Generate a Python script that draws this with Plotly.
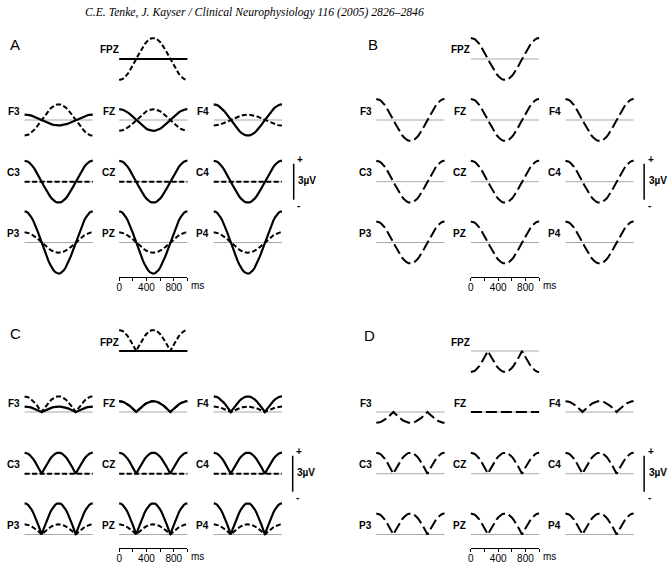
import plotly.graph_objects as go

W, H = 671, 569

# ---------------- data ----------------
times = [0, 25, 50, 75, 100, 125, 150, 175, 200, 225, 250, 275, 300, 325, 350, 375, 400,
         425, 450, 475, 500, 525, 550, 575, 600, 625, 650, 675, 700, 725, 750, 775, 800,
         825, 850, 875, 900, 925, 950, 975, 1000]
# normalised waveform (one cycle, peak at 0 and 1000 ms, trough at 500 ms)
wave = [1.0, 0.988, 0.951, 0.891, 0.809, 0.707, 0.588, 0.454, 0.309, 0.156, 0.0,
        -0.156, -0.309, -0.454, -0.588, -0.707, -0.809, -0.891, -0.951, -0.988, -1.0,
        -0.988, -0.951, -0.891, -0.809, -0.707, -0.588, -0.454, -0.309, -0.156, 0.0,
        0.156, 0.309, 0.454, 0.588, 0.707, 0.809, 0.891, 0.951, 0.988, 1.0]
# rectified waveform (panels C and D)
wave_rect = [1.0, 0.988, 0.951, 0.891, 0.809, 0.707, 0.588, 0.454, 0.309, 0.156, 0.0,
             0.156, 0.309, 0.454, 0.588, 0.707, 0.809, 0.891, 0.951, 0.988, 1.0,
             0.988, 0.951, 0.891, 0.809, 0.707, 0.588, 0.454, 0.309, 0.156, 0.0,
             0.156, 0.309, 0.454, 0.588, 0.707, 0.809, 0.891, 0.951, 0.988, 1.0]

electrodes = ["FPZ", "F3", "FZ", "F4", "C3", "CZ", "C4", "P3", "PZ", "P4"]
# amplitudes in microvolts
a_solid = [0.0, 0.45, 0.9, 1.3, 1.75, 1.75, 1.75, 2.6, 2.6, 2.6]
a_dashed = [-1.75, -1.3, -0.9, -0.45, 0.0, 0.0, 0.0, 0.85, 0.85, 0.85]
b_dashed = [1.75, 1.75, 1.75, 1.75, 1.75, 1.75, 1.75, 1.75, 1.75, 1.75]
c_solid = [0.0, 0.45, 0.9, 1.3, 1.75, 1.75, 1.75, 2.6, 2.6, 2.6]
c_dashed = [1.75, 1.3, 0.9, 0.45, 0.0, 0.0, 0.0, 0.85, 0.85, 0.85]
d_dashed = [-1.75, -0.9, 0.0, 0.9, 1.75, 1.75, 1.75, 1.75, 1.75, 1.75]

time_ticks = [0, 200, 400, 600, 800, 1000]
time_labels = ["0", "", "400", "", "800", ""]
scale_bar_uv = [-1.5, 1.5]

title_text = "C.E. Tenke, J. Kayser / Clinical Neurophysiology 116 (2005) 2826–2846"

# ---------------- layout geometry (pixels) ----------------
PX_PER_UV = 12.0
PLOT_W = 68.5            # pixels for 0..1000 ms
PX_PER_MS = PLOT_W / 1000.0
XPAD = 15                # ms padding
YR = 2.8                 # uV half range

col_x = [21.7, 116.7, 211.7]
row_y = [59.0, 120.0, 181.7, 242.5]
grid = [(0, 1), (1, 0), (1, 1), (1, 2), (2, 0), (2, 1), (2, 2), (3, 0), (3, 1), (3, 2)]

FONT = "Liberation Sans, Arial, sans-serif"


def px_x(x):
    return x / W


def px_y(y):
    return 1 - y / H


fig = go.Figure()
layout = {}
annotations = []
ax_n = [0]


def new_axes(x0, yb, xr, yr):
    ax_n[0] += 1
    n = ax_n[0]
    xd0 = x0 + (xr[0]) * PX_PER_MS
    xd1 = x0 + (xr[1]) * PX_PER_MS
    yd_top = yb - yr[1] * PX_PER_UV
    yd_bot = yb - yr[0] * PX_PER_UV
    sx = "" if n == 1 else str(n)
    layout["xaxis" + sx] = dict(domain=[px_x(xd0), px_x(xd1)], range=list(xr), visible=False,
                                anchor="y" + sx, fixedrange=True)
    layout["yaxis" + sx] = dict(domain=[px_y(yd_bot), px_y(yd_top)], range=list(yr), visible=False,
                                anchor="x" + sx, fixedrange=True)
    return "x" + sx, "y" + sx


panels = [
    dict(letter="A", dx=0.0, dy=0.0, solid=a_solid, dashed=a_dashed, shape=wave, dash="5px,2.5px",
         letter_pos=(12, 44), taxis_y=276.7, bar_x=292.0),
    dict(letter="B", dx=353.3, dy=0.0, solid=None, dashed=b_dashed, shape=wave, dash="11px,4px",
         letter_pos=(372, 44), taxis_y=276.7, bar_x=644.0),
    dict(letter="C", dx=0.0, dy=292.0, solid=c_solid, dashed=c_dashed, shape=wave_rect, dash="5px,2.5px",
         letter_pos=(13, 333), taxis_y=548.3, bar_x=291.0),
    dict(letter="D", dx=353.3, dy=292.0, solid=None, dashed=d_dashed, shape=wave_rect, dash="11px,4px",
         letter_pos=(368, 335), taxis_y=548.3, bar_x=644.0),
]

for p in panels:
    for i, name in enumerate(electrodes):
        r, c = grid[i]
        x0 = col_x[c] + p["dx"]
        yb = row_y[r] + p["dy"]
        xa, ya = new_axes(x0, yb, (-XPAD, 1000 + XPAD), (-YR, YR))
        # baseline
        fig.add_trace(go.Scatter(x=[times[0], times[-1]], y=[0, 0], mode="lines",
                                 line=dict(color="#a8a8a8", width=1),
                                 xaxis=xa, yaxis=ya, hoverinfo="skip", showlegend=False))
        # dashed
        fig.add_trace(go.Scatter(x=times, y=[p["dashed"][i] * v for v in p["shape"]], mode="lines",
                                 line=dict(color="black", width=2, dash=p["dash"]),
                                 xaxis=xa, yaxis=ya, hoverinfo="skip", showlegend=False))
        if p["solid"] is not None:
            fig.add_trace(go.Scatter(x=times, y=[p["solid"][i] * v for v in p["shape"]], mode="lines",
                                     line=dict(color="black", width=2.2),
                                     xaxis=xa, yaxis=ya, hoverinfo="skip", showlegend=False))
        # label
        if name == "FPZ":
            lx = x0 + 1.5
        else:
            lx = x0 - 2.5
        annotations.append(dict(x=px_x(lx), y=px_y(yb - 1.5), xref="paper", yref="paper",
                                xanchor="right", yanchor="bottom", text="<b>%s</b>" % name,
                                showarrow=False, font=dict(family=FONT, size=10, color="black")))

    # panel letter
    lpx, lpy = p["letter_pos"]
    annotations.append(dict(x=px_x(lpx), y=px_y(lpy), xref="paper", yref="paper",
                            xanchor="center", yanchor="middle", text=p["letter"], showarrow=False,
                            font=dict(family=FONT, size=15, color="black")))

    # time axis under middle column
    ax_n[0] += 1
    n = ax_n[0]
    x0 = col_x[1] + p["dx"]
    ty = p["taxis_y"]
    layout["xaxis%d" % n] = dict(domain=[px_x(x0), px_x(x0 + PLOT_W)], range=[0, 1000],
                                 anchor="y%d" % n, showline=True, linecolor="black", linewidth=1,
                                 ticks="outside", ticklen=3, tickwidth=1, tickcolor="black",
                                 tickvals=time_ticks, ticktext=time_labels, showgrid=False,
                                 zeroline=False, fixedrange=True, ticklabelstandoff=-2,
                                 tickfont=dict(family=FONT, size=10, color="black"))
    layout["yaxis%d" % n] = dict(domain=[px_y(ty), px_y(ty - 10)], range=[0, 1], visible=False,
                                 anchor="x%d" % n, fixedrange=True)
    fig.add_trace(go.Scatter(x=[time_ticks[0], time_ticks[-1]], y=[0, 0], mode="lines",
                             line=dict(color="rgba(0,0,0,0)", width=0),
                             xaxis="x%d" % n, yaxis="y%d" % n, hoverinfo="skip", showlegend=False))
    annotations.append(dict(x=px_x(x0 + PLOT_W + 1.5), y=px_y(ty + 8.5), xref="paper", yref="paper",
                            xanchor="left", yanchor="middle", text="ms", showarrow=False,
                            font=dict(family=FONT, size=10, color="black")))

    # scale bar beside the C4 plot
    bx = p["bar_x"]
    by = row_y[2] + p["dy"]
    xa, ya = new_axes(bx, by, (-50, 50), (-YR, YR))
    fig.add_trace(go.Scatter(x=[0, 0], y=scale_bar_uv, mode="lines",
                             line=dict(color="black", width=1.5),
                             xaxis=xa, yaxis=ya, hoverinfo="skip", showlegend=False))
    half = scale_bar_uv[1] * PX_PER_UV
    annotations.append(dict(x=px_x(bx + 1.5), y=px_y(by - half - 4), xref="paper", yref="paper",
                            xanchor="left", yanchor="middle", text="<b>+</b>", showarrow=False,
                            font=dict(family=FONT, size=10, color="black")))
    annotations.append(dict(x=px_x(bx + 1.5), y=px_y(by + half + 6), xref="paper", yref="paper",
                            xanchor="left", yanchor="middle", text="<b>-</b>", showarrow=False,
                            font=dict(family=FONT, size=10, color="black")))
    annotations.append(dict(x=px_x(bx + 2.5), y=px_y(by - 1), xref="paper", yref="paper",
                            xanchor="left", yanchor="middle", text="<b>3µV</b>", showarrow=False,
                            font=dict(family=FONT, size=10, color="black")))

annotations.append(dict(x=px_x(253), y=px_y(13), xref="paper", yref="paper",
                        xanchor="center", yanchor="middle", text="<i>%s</i>" % title_text,
                        showarrow=False,
                        font=dict(family="Liberation Serif, Times New Roman, serif", size=11.7,
                                  color="black")))

fig.update_layout(width=W, height=H, margin=dict(l=0, r=0, t=0, b=0, pad=0),
                  paper_bgcolor="white", plot_bgcolor="rgba(0,0,0,0)",
                  showlegend=False, annotations=annotations, **layout)

fig.write_html("out.html", config={"displayModeBar": False},
               post_script="document.body.style.margin='0';document.body.style.overflow='hidden';")
